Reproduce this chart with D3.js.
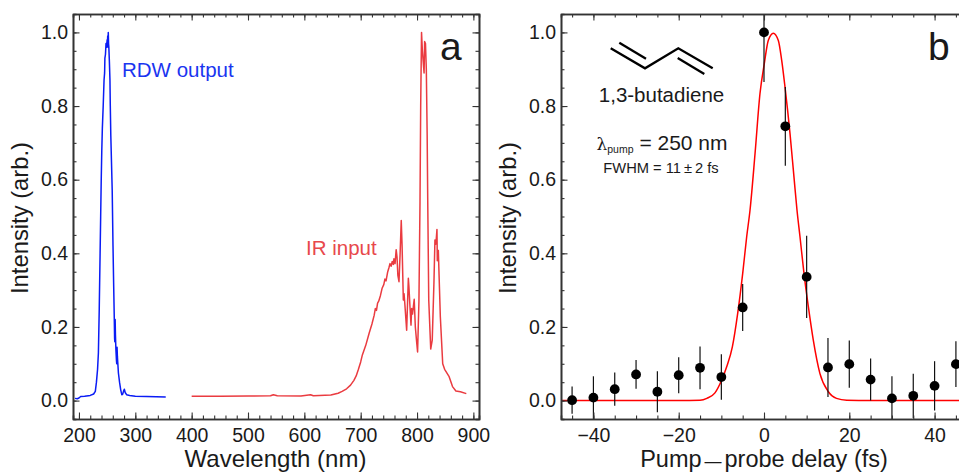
<!DOCTYPE html>
<html><head><meta charset="utf-8">
<script src="https://cdnjs.cloudflare.com/ajax/libs/d3/7.8.5/d3.min.js"></script>
<style>
html,body{margin:0;padding:0;background:#fff;overflow:hidden}
svg{display:block}
text{font-family:"Liberation Sans",Arial,sans-serif;fill:#1a1a1a}
</style></head><body>
<svg id="c" width="959" height="474"></svg>
<script>
// Panel a: spectra
const rdwWavelength=[193,197,200,203,210,220,226,229,231,233,234.5,236,237.5,238.5,239.5,240.5,241.5,242,243,244.5,245.5,246,247,248,249,250,250.5,251,251.5,252,252.5,253,254,255,255.6,256.5,257.5,259,260.4,261.5,262.7,263.2,263.6,264.2,264.7,265.5,266.5,267,267.6,268.2,268.8,270,272,274,276,277.5,279,280.5,282,284.5,290,300,320,354];
const rdwIntensity=[0.006,0.005,0.007,0.011,0.012,0.014,0.018,0.025,0.05,0.085,0.13,0.25,0.4,0.5,0.6,0.68,0.74,0.76,0.8,0.87,0.89,0.93,0.94,0.97,0.96,0.98,0.97,0.99,0.96,1.0,0.97,0.96,0.92,0.87,0.8,0.72,0.66,0.57,0.42,0.32,0.22,0.17,0.16,0.22,0.18,0.14,0.11,0.1,0.145,0.12,0.105,0.075,0.05,0.03,0.016,0.017,0.025,0.031,0.022,0.016,0.014,0.012,0.011,0.01];
const irWavelength=[400,450,500,540,545,552,594,611,616,647,660,667,675,682,688,692,696,700,703,709,715,720,724,726,728,730,732,735,738,741,743,745,748,750,752,754,756,758,759,761,763,764.5,766,768,770,772,773.5,775.7,777,778.5,781.6,784.6,785.6,787.5,789.3,790.5,792,793.5,795,797,799,801,803.4,805.3,806.5,808,809.5,811,812.5,813.5,815,816.5,818,819,820.8,824.3,827,830,831.8,833.5,835.4,836,837.8,841.4,845.6,849,857,863,869,877,887.5];
const irIntensity=[0.012,0.0115,0.0125,0.013,0.016,0.013,0.0127,0.016,0.013,0.015,0.02,0.025,0.032,0.042,0.055,0.067,0.085,0.105,0.124,0.15,0.183,0.208,0.232,0.25,0.245,0.265,0.27,0.285,0.305,0.315,0.33,0.325,0.35,0.36,0.372,0.365,0.378,0.37,0.385,0.372,0.41,0.39,0.34,0.323,0.4,0.489,0.42,0.273,0.29,0.26,0.191,0.332,0.31,0.255,0.205,0.25,0.235,0.255,0.275,0.2,0.165,0.132,0.27,0.54,0.8,1.0,0.95,0.92,0.89,0.975,0.97,0.9,0.72,0.544,0.273,0.14,0.164,0.319,0.436,0.425,0.465,0.38,0.408,0.227,0.1,0.085,0.065,0.038,0.026,0.024,0.019];
const xTicksA=[200,300,400,500,600,700,800,900];
const yTicks=[0,0.2,0.4,0.6,0.8,1.0];
const yMinor=[-0.05,0,0.05,0.1,0.15,0.2,0.25,0.3,0.35,0.4,0.45,0.5,0.55,0.6,0.65,0.7,0.75,0.8,0.85,0.9,0.95,1.0];
const xMinorA=d3.range(200,901,20);
// Panel b: delay scan
const delay=[-45,-40,-35,-30,-25,-20,-15,-10,-5,0,5,10,15,20,25,30,35,40,45];
const signal=[0.001,0.008,0.031,0.071,0.024,0.069,0.089,0.064,0.253,1.0,0.745,0.336,0.09,0.099,0.057,0.006,0.013,0.04,0.099];
const signalErr=[0.037,0.058,0.045,0.039,0.056,0.049,0.058,0.062,0.064,0.135,0.107,0.112,0.08,0.064,0.057,0.06,0.06,0.067,0.062];
const fitDelay=[-47.6,-20,-15,-13.4,-11.5,-9.92,-8.75,-7.42,-6.17,-5,-4.06,-3.28,-2.1,-0.94,0.07,1,2.19,3.36,4.15,4.92,6.1,7.03,7.74,8.44,9.38,10.4,11.56,13.1,15.1,17,19.4,25,47.6];
const fitValue=[0,0,0.001,0.006,0.021,0.056,0.092,0.146,0.237,0.345,0.445,0.517,0.671,0.834,0.915,0.978,0.998,0.978,0.924,0.852,0.725,0.607,0.517,0.445,0.345,0.255,0.164,0.074,0.024,0.006,0.001,0,0];
const xTicksB=[-40,-20,0,20,40];
const xMinorB=d3.range(-45,46,5);

const svg=d3.select('#c');
const top_=14,bottom=419;
const y=d3.scaleLinear().domain([-0.05,1.05]).range([bottom,top_]);
const xa=d3.scaleLinear().domain([189.4,910]).range([73,479]);
const xb=d3.scaleLinear().domain([-47.6,47.6]).range([561,967]);
const fmtY=d3.format('.1f');
const axisColor='#333';

function frame(x,ticks,minor,fmt){
  const g=svg.append('g');
  const [l,r]=x.range();
  const style=s=>{s.selectAll('path').attr('stroke',axisColor).attr('stroke-width',1.6);
    s.selectAll('line').attr('stroke',axisColor).attr('stroke-width',1.1);
    s.selectAll('text').attr('font-size',19.5).style('fill','#1a1a1a');};
  g.append('g').attr('transform',`translate(0,${bottom})`).call(d3.axisBottom(x).tickValues(minor).tickSize(-3.5).tickFormat('')).call(style);
  g.append('g').attr('transform',`translate(0,${bottom})`).call(d3.axisBottom(x).tickValues(ticks).tickSizeInner(-6.5).tickSizeOuter(0).tickPadding(9.5).tickFormat(fmt)).call(style);
  g.append('g').attr('transform',`translate(0,${top_})`).call(d3.axisTop(x).tickValues(minor).tickSize(-3.5).tickFormat('')).call(style);
  g.append('g').attr('transform',`translate(0,${top_})`).call(d3.axisTop(x).tickValues(ticks).tickSizeInner(-6.5).tickSizeOuter(0).tickFormat('')).call(style);
  g.append('g').attr('transform',`translate(${l},0)`).call(d3.axisLeft(y).tickValues(yMinor).tickSize(-3.5).tickFormat('')).call(style);
  g.append('g').attr('transform',`translate(${l},0)`).call(d3.axisLeft(y).tickValues(yTicks).tickSizeInner(-6.5).tickSizeOuter(0).tickPadding(5).tickFormat(fmtY)).call(style);
  g.append('g').attr('transform',`translate(${r},0)`).call(d3.axisRight(y).tickValues(yMinor).tickSize(-3.5).tickFormat('')).call(style);
  g.append('g').attr('transform',`translate(${r},0)`).call(d3.axisRight(y).tickValues(yTicks).tickSizeInner(-6.5).tickSizeOuter(0).tickFormat('')).call(style);
  return g;
}

const line=(x,xs)=>d3.line().x((d,i)=>x(xs[i])).y(d=>y(d));
svg.append('path').datum(rdwIntensity).attr('d',line(xa,rdwWavelength)).attr('fill','none').attr('stroke','#0a1cf5').attr('stroke-width',1.5).attr('stroke-linejoin','round');
svg.append('path').datum(irIntensity).attr('d',line(xa,irWavelength)).attr('fill','none').attr('stroke','#ea3b40').attr('stroke-width',1.5).attr('stroke-linejoin','round');

frame(xa,xTicksA,xMinorA,d3.format('d'));

svg.append('defs').append('clipPath').attr('id','pb').append('rect').attr('x',561).attr('y',top_).attr('width',406).attr('height',bottom-top_);
const pb=svg.append('g').attr('clip-path','url(#pb)');
pb.append('path').datum(fitValue).attr('d',line(xb,fitDelay).curve(d3.curveMonotoneX)).attr('fill','none').attr('stroke','#ff0000').attr('stroke-width',1.5);
pb.selectAll('line.err').data(delay).join('line').attr('class','err')
  .attr('x1',d=>xb(d)).attr('x2',d=>xb(d))
  .attr('y1',(d,i)=>y(signal[i]-signalErr[i])).attr('y2',(d,i)=>y(signal[i]+signalErr[i]))
  .attr('stroke','#111').attr('stroke-width',1.2);
pb.selectAll('circle').data(delay).join('circle')
  .attr('cx',d=>xb(d)).attr('cy',(d,i)=>y(signal[i])).attr('r',4.9).attr('fill','#000');

const minusFmt=d=>d<0?'\u2212'+Math.abs(d):String(d);
frame(xb,xTicksB,xMinorB,minusFmt);

function txt(x0,y0,s,size,color,anchor){
  const t=svg.append('text').attr('x',x0).attr('y',y0).attr('font-size',size).text(s);
  if(color)t.style('fill',color);
  if(anchor)t.attr('text-anchor',anchor);
  return t;
}
txt(275.5,467,'Wavelength (nm)',24,null,'middle');
svg.append('text').attr('transform','translate(28,218) rotate(-90)').attr('text-anchor','middle').attr('font-size',23.8).text('Intensity (arb.)');
svg.append('text').attr('transform','translate(516,218) rotate(-90)').attr('text-anchor','middle').attr('font-size',23.8).text('Intensity (arb.)');
const tb=svg.append('text').attr('x',764).attr('y',467).attr('text-anchor','middle').attr('font-size',23.5);
tb.append('tspan').text('Pump');
tb.append('tspan').attr('dx',3).attr('font-size',17).text('\u2014');
tb.append('tspan').attr('dx',3).text('probe delay (fs)');

txt(122,77,'RDW output',20.5,'#1a35f0');
txt(306,255,'IR input',20.5,'#e8484c');
txt(440,60,'a',39);
txt(928,60,'b',39);
txt(661.5,102,'1,3-butadiene',20.5,null,'middle');
const lam=svg.append('text').attr('x',596.5).attr('y',150).attr('font-size',21);
lam.append('tspan').attr('font-family','DejaVu Serif').attr('font-size',17).text('\u03bb');
lam.append('tspan').attr('font-size',10.5).attr('dy',3).text('pump');
lam.append('tspan').attr('dy',-3).text(' = 250 nm');
const fw=svg.append('text').attr('x',661).attr('y',172.5).attr('font-size',14.7).attr('text-anchor','middle');
fw.text('FWHM = 11\u2009\u00b1\u20092 fs');

// 1,3-butadiene skeleton
const bondStyle=s=>s.attr('fill','none').attr('stroke','#000').attr('stroke-width',2.3);
const mol=d3.line();
svg.append('path').attr('d',mol([[610.7,48.3],[645,68.3],[678.3,48.3],[712.7,68.3]])).call(bondStyle);
svg.append('path').attr('d',mol([[619.3,42.7],[646,58.7]])).call(bondStyle);
svg.append('path').attr('d',mol([[677.7,58],[704.3,74]])).call(bondStyle);
</script>
</body></html>
